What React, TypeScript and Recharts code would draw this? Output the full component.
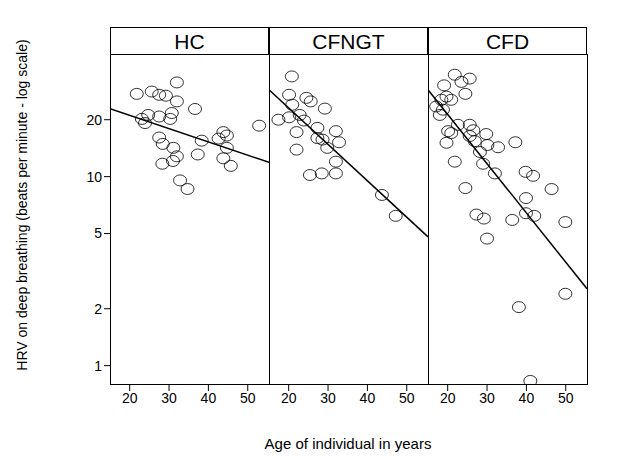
import React from 'react';
import { ScatterChart, Scatter, XAxis, YAxis } from 'recharts';

const panels = ['HC', 'CFNGT', 'CFD'];

const hcAge = [32.0, 21.8, 25.6, 27.5, 29.2, 32.0, 36.6, 30.7, 27.5, 24.7, 23.1, 23.9, 30.3, 52.9, 43.8, 44.7, 42.6, 38.3, 27.5, 28.4, 31.1, 32.0, 31.0, 28.3, 37.3, 44.7, 43.8, 45.7, 32.8, 34.7];
const hcHrv = [31.5, 27.4, 28.2, 27.1, 26.8, 25.0, 22.8, 21.7, 20.8, 21.2, 20.2, 19.2, 20.2, 18.6, 17.2, 16.5, 15.9, 15.5, 16.1, 14.9, 14.2, 12.8, 12.1, 11.7, 13.1, 14.2, 12.5, 11.4, 9.55, 8.6];

const ngtAge = [20.8, 20.1, 24.5, 25.6, 20.9, 29.2, 17.4, 20.1, 22.8, 23.9, 27.3, 22.0, 32.0, 27.3, 28.6, 32.8, 29.8, 22.0, 32.0, 25.4, 28.4, 32.0, 43.7, 47.2];
const ngtHrv = [33.9, 27.1, 26.1, 25.0, 24.0, 22.9, 20.0, 20.6, 21.2, 19.8, 18.1, 17.2, 17.4, 16.0, 15.7, 15.2, 14.2, 13.9, 12.0, 10.2, 10.4, 10.4, 8.0, 6.2];

const cfdAge = [21.8, 23.5, 25.6, 19.1, 24.5, 19.7, 18.4, 20.9, 17.1, 18.8, 18.0, 22.6, 25.6, 20.1, 20.9, 26.5, 25.6, 29.8, 26.9, 19.7, 30.1, 32.8, 37.2, 28.2, 21.8, 29.0, 32.0, 39.8, 41.7, 24.5, 46.4, 39.9, 39.9, 42.0, 27.3, 29.2, 36.4, 49.9, 30.0, 49.9, 38.1, 41.0];
const cfdHrv = [34.6, 31.7, 33.0, 30.4, 27.4, 26.5, 25.5, 25.5, 23.5, 22.6, 21.2, 18.8, 18.8, 17.4, 17.0, 17.6, 16.4, 16.8, 15.4, 15.1, 14.7, 14.3, 15.2, 13.5, 12.0, 11.7, 10.4, 10.6, 10.1, 8.7, 8.6, 7.7, 6.4, 6.2, 6.3, 6.0, 5.9, 5.75, 4.7, 2.4, 2.04, 0.83];

const fitAge = [15, 55.4];
const fitHrv = [
  [22.9, 11.9],
  [28.8, 4.8],
  [28.8, 2.55],
];

const ages = [hcAge, ngtAge, cfdAge];
const hrvs = [hcHrv, ngtHrv, cfdHrv];

const xTicks = [20, 30, 40, 50];
const yTicks = [1, 2, 5, 10, 20];

const font = 'Arial, "Liberation Sans", sans-serif';
const W = 159;
const L = 110;

const Ring = (p: any) => (
  <ellipse cx={p.cx} cy={p.cy} rx={6.5} ry={5.5} fill="none" stroke="#000" strokeWidth={0.8} />
);

export default function App() {
  document.body.style.margin = '0';
  return (
    <div style={{ position: 'relative', width: 618, height: 467, background: '#fff', fontFamily: font }}>
      {panels.map((name, i) => {
        const pts = ages[i].map((a, j) => ({ age: a, hrv: hrvs[i][j] }));
        const fit = fitAge.map((a, j) => ({ age: a, hrv: fitHrv[i][j] }));
        const first = i === 0;
        const w = first ? L + W : W;
        return (
          <div key={name} style={{ position: 'absolute', left: first ? 0 : L + W * i, top: 0 }}>
            <ScatterChart width={w} height={467} margin={{ top: 55, right: 0, bottom: 52, left: 0 }}>
              <XAxis
                type="number"
                dataKey="age"
                domain={[15, 55.4]}
                ticks={xTicks}
                allowDataOverflow
                axisLine={false}
                tickSize={6}
                tick={{ fill: '#000', fontSize: 14, fontFamily: font }}
                tickLine={{ stroke: '#000' }}
                height={30}
              />
              <YAxis
                type="number"
                dataKey="hrv"
                scale="log"
                domain={[0.79, 44]}
                ticks={yTicks}
                allowDataOverflow
                hide={!first}
                width={first ? L : 0}
                axisLine={false}
                tickSize={6}
                tick={{ fill: '#000', fontSize: 14, fontFamily: font }}
                tickLine={{ stroke: '#000' }}
              />
              <Scatter data={pts} shape={Ring} isAnimationActive={false} />
              <Scatter
                data={fit}
                shape={() => <g />}
                line={{ stroke: '#000', strokeWidth: 1.5 }}
                isAnimationActive={false}
              />
            </ScatterChart>
            <div
              style={{
                position: 'absolute',
                left: first ? L : 0,
                top: 27,
                width: W,
                height: 28,
                boxSizing: 'border-box',
                border: '1px solid #000',
                textAlign: 'center',
                fontSize: 21,
                lineHeight: '28px',
              }}
            >
              {name}
            </div>
            <div
              style={{
                position: 'absolute',
                left: first ? L : 0,
                top: 54,
                width: W + 1,
                height: 331,
                boxSizing: 'border-box',
                border: '1px solid #000',
                pointerEvents: 'none',
              }}
            />
          </div>
        );
      })}
      <div
        style={{
          position: 'absolute',
          left: 22,
          top: 205,
          transform: 'translate(-50%, -50%) rotate(-90deg)',
          whiteSpace: 'nowrap',
          fontSize: 14,
        }}
      >
        HRV on deep breathing (beats per minute - log scale)
      </div>
      <div style={{ position: 'absolute', left: 348, top: 443, transform: 'translate(-50%, -50%)', fontSize: 15, whiteSpace: 'nowrap' }}>
        Age of individual in years
      </div>
    </div>
  );
}
